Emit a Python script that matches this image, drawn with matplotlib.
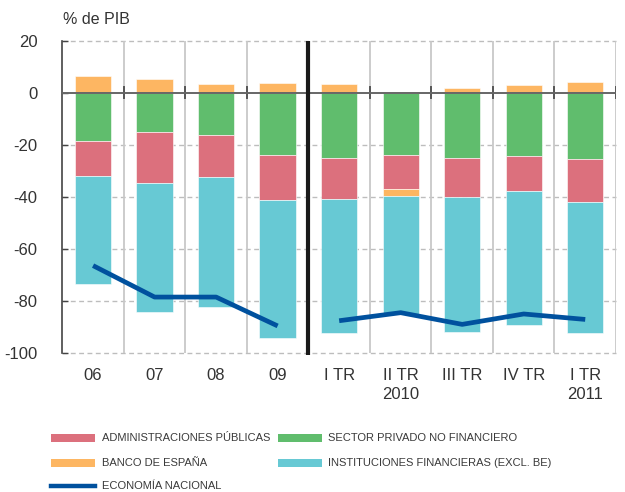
import numpy as np
import matplotlib
matplotlib.use("Agg")
import matplotlib.pyplot as plt
from matplotlib.patches import Rectangle
from matplotlib.lines import Line2D

plt.rcParams['font.family'] = ['Liberation Sans', 'DejaVu Sans']

# Categories (years, then quarters of 2010 and 2011)
categories = ["06", "07", "08", "09", "I TR", "II TR\n2010", "III TR", "IV TR", "I TR\n2011"]

# Net financial position by sector, % of GDP
admin_publicas = [-13.4, -19.7, -16.1, -17.6, -15.6, -12.9, -15.1, -13.5, -16.6]
banco_espana = [6.4, 5.1, 3.2, 3.7, 3.5, -2.7, 1.8, 2.8, 4.1]
sector_privado = [-18.6, -15.0, -16.4, -23.8, -25.2, -24.1, -25.0, -24.3, -25.4]
inst_financieras = [-41.7, -49.6, -49.9, -52.9, -51.6, -45.3, -52.1, -51.7, -50.4]
economia_nacional = [-66.5, -78.6, -78.6, -89.7, -87.7, -84.6, -89.1, -85.1, -87.2]

yticks = [20, 0, -20, -40, -60, -80, -100]

C_RED = "#DC707D"
C_ORANGE = "#FDB662"
C_GREEN = "#60BD6D"
C_CYAN = "#67C9D4"
C_BLUE = "#00519E"
TXT = "#333333"

fig = plt.figure(figsize=(6.25, 4.92), dpi=100)
ax = fig.add_axes([0.0997, 0.2831, 0.8859, 0.6342])

x = np.arange(len(categories))
width = 0.59

# stacking order from zero outwards
stack = [
    (sector_privado, C_GREEN),
    (admin_publicas, C_RED),
    (banco_espana, C_ORANGE),
    (inst_financieras, C_CYAN),
]
pos_base = np.zeros(len(x))
neg_base = np.zeros(len(x))
for values, color in stack:
    v = np.asarray(values, dtype=float)
    bottom = np.where(v >= 0, pos_base, neg_base)
    ax.bar(x, v, width, bottom=bottom, color=color, edgecolor="white",
           linewidth=0.4, zorder=3)
    pos_base = pos_base + np.where(v >= 0, v, 0)
    neg_base = neg_base + np.where(v < 0, v, 0)

# economia nacional: annual and quarterly segments drawn separately
ax.plot(x[:4], economia_nacional[:4], color=C_BLUE, lw=3.4, zorder=5,
        solid_capstyle="butt")
ax.plot(x[4:], economia_nacional[4:], color=C_BLUE, lw=3.4, zorder=5,
        solid_capstyle="butt")

ax.set_xlim(-0.5, len(x) - 0.5)
ax.set_ylim(-100, 20)

# horizontal dashed grid
for yv in yticks:
    if yv == 0:
        continue
    ax.axhline(yv, color="#BDBDBD", lw=1.0, ls=(0, (3.5, 2.5)), zorder=1,
               clip_on=False)
# vertical separators between categories
for b in np.arange(0.5, len(x), 1.0):
    if b == 3.5:
        continue
    ax.axvline(b, color="#C8C8C8", lw=1.3, zorder=1)
    ax.plot([b, b], [-2.2, 2.2], color="#555555", lw=1.4, zorder=4)
# zero line
ax.axhline(0, color="#666666", lw=1.4, zorder=4)
# break between annual and quarterly data
ax.plot([3.5, 3.5], [20, -101], color="#1A1A1A", lw=3.0, zorder=6,
        clip_on=False, solid_capstyle="butt")

for s in ["top", "right", "bottom"]:
    ax.spines[s].set_visible(False)
ax.spines["left"].set_color("#444444")
ax.spines["left"].set_linewidth(1.2)

ax.set_yticks(yticks)
ax.set_yticklabels([str(v) for v in yticks])
ax.tick_params(axis="y", direction="in", length=4, width=1.0, color="#444444",
               pad=18, labelsize=12, labelcolor=TXT)
ax.set_xticks(x)
ax.set_xticklabels(categories, linespacing=1.35)
ax.tick_params(axis="x", length=0, pad=11, labelsize=12, labelcolor=TXT)

fig.text(63 / 625, 1 - 19 / 492, "% de PIB", fontsize=11.5, color=TXT,
         ha="left", va="center")

# legend
W, H = 625.0, 492.0
entries = [
    (51, 438, "patch", C_RED, "ADMINISTRACIONES PÚBLICAS"),
    (51, 463, "patch", C_ORANGE, "BANCO DE ESPAÑA"),
    (51, 486, "line", C_BLUE, "ECONOMÍA NACIONAL"),
    (278, 438, "patch", C_GREEN, "SECTOR PRIVADO NO FINANCIERO"),
    (278, 463, "patch", C_CYAN, "INSTITUCIONES FINANCIERAS (EXCL. BE)"),
]
for px, py, kind, color, label in entries:
    if kind == "patch":
        fig.add_artist(Rectangle((px / W, 1 - (py + 4.2) / H), 43.5 / W, 8.5 / H,
                                 transform=fig.transFigure, color=color, lw=0))
    else:
        fig.add_artist(Line2D([px / W, (px + 43.5) / W], [1 - py / H, 1 - py / H],
                              transform=fig.transFigure, color=color, lw=3.2))
    fig.text((px + 50.5) / W, 1 - py / H, label, fontsize=8, color="#3a3a3a",
             ha="left", va="center")

fig.savefig("out.png", dpi=100)
